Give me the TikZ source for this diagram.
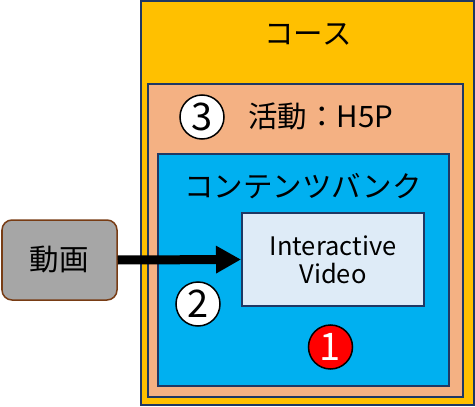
\documentclass[tikz,border=0pt]{standalone}
\usepackage{fontspec}
\setmainfont{Noto Sans CJK JP}
\usetikzlibrary{arrows.meta}
\definecolor{cours}{RGB}{255,192,0}
\definecolor{activite}{RGB}{244,177,131}
\definecolor{banque}{RGB}{0,176,240}
\definecolor{ivfond}{RGB}{222,235,247}
\definecolor{videofond}{RGB}{166,166,166}
\definecolor{marine}{RGB}{31,56,100}
\definecolor{brun}{RGB}{120,60,20}
\begin{document}
\begin{tikzpicture}[x=1pt, y=-1pt,
		boite/.style={draw=marine, line width=2pt, inner sep=0pt},
		titre/.style={font=\fontsize{29.5}{32}\selectfont},
		numero/.style={circle, draw=black, line width=1.5pt, fill=white, minimum size=44pt, inner sep=0pt, font=\fontsize{38}{38}\selectfont}]
	\useasboundingbox (0,0) rectangle (475,407);
	%Boites imbriquees
	\node[boite, fill=cours, minimum width=333pt, minimum height=404pt] (Cours) at (307.5,203) {};
	\node[boite, fill=activite, minimum width=315pt, minimum height=313pt] (Act) at (305.5,240.5) {};
	\node[boite, fill=banque, minimum width=291pt, minimum height=232pt] (Banque) at (303.5,270) {};
	\node[boite, fill=ivfond, minimum width=182pt, minimum height=93pt, align=center, font=\fontsize{25.5}{28}\selectfont] (IV) at (333,259.5) {Interactive\\Video};
	\node[draw=brun, line width=1.5pt, rounded corners=10pt, fill=videofond, minimum width=115pt, minimum height=80pt, titre] (Video) at (59.5,260) {動画};
	%Titres
	\node[titre] (TCours) at (308,34) {コース};
	\node[titre] (TAct) at (321,116) {活動：H5P};
	\node[titre] (TBanque) at (303,186) {コンテンツバンク};
	%Numeros
	\node[numero] (N3) at (202,117) {3};
	\node[numero] (N2) at (198,304) {2};
	\node[numero, fill=red, text=white] (N1) at (330.5,347) {1};
	%Fleche
	\draw[line width=9pt, -{Triangle[length=25pt, width=26pt]}] (Video.east) -- (IV.west);
\end{tikzpicture}
\end{document}
